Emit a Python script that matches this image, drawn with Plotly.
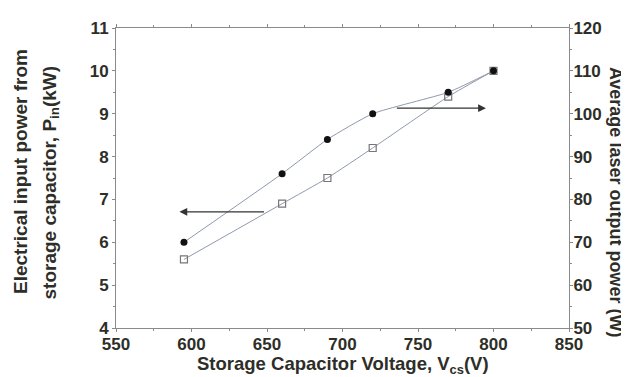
import plotly.graph_objects as go

voltage_in = [595, 660, 690, 720, 770, 800]
input_power_kw = [5.6, 6.9, 7.5, 8.2, 9.4, 10.0]

voltage_out = [595, 660, 690, 720, 770, 800]
laser_power_w = [70.0, 86.0, 94.0, 100.0, 105.0, 110.0]

left_title_lines = ["Electrical input power from", "storage capacitor, P<sub>in</sub>(kW)"]
right_title = "Average laser output power (W)"
x_title = "Storage Capacitor Voltage, V<sub>cs</sub>(V)"

FONT = "Liberation Sans, Arial, sans-serif"
LINE_COLOR = "#8f99ab"
TXT = "#2e2e28"

fig = go.Figure()
fig.add_trace(go.Scatter(
    x=voltage_in, y=input_power_kw, mode="lines+markers",
    line=dict(color=LINE_COLOR, width=1, shape="spline", smoothing=0.5),
    marker=dict(symbol="square-open", size=7, color="#777", line=dict(width=1.2)),
    yaxis="y", showlegend=False))
fig.add_trace(go.Scatter(
    x=voltage_out, y=laser_power_w, mode="lines+markers",
    line=dict(color=LINE_COLOR, width=1, shape="spline", smoothing=0.5),
    marker=dict(symbol="circle", size=7, color="#111"),
    yaxis="y2", showlegend=False))

axis_common = dict(showline=True, linecolor="#8a8a8a", linewidth=1,
                   ticks="outside", ticklen=3, tickcolor="#8a8a8a",
                   tickfont=dict(family=FONT, size=17, color=TXT, weight="bold"),
                   showgrid=False, zeroline=False)

fig.update_layout(
    width=629, height=377,
    margin=dict(l=108, r=68, t=20, b=57),
    paper_bgcolor="white", plot_bgcolor="white",
    xaxis=dict(range=[550, 850], tickvals=[550, 600, 650, 700, 750, 800, 850],
               mirror="ticks", ticklabelstandoff=-2,
               minor=dict(dtick=25, ticks="outside", ticklen=2, tickcolor="#8a8a8a"),
               **axis_common),
    yaxis=dict(range=[4, 11], dtick=1,
               minor=dict(dtick=0.5, ticks="outside", ticklen=2, tickcolor="#8a8a8a"),
               **axis_common),
    yaxis2=dict(range=[50, 120], dtick=10, overlaying="y", side="right",
                ticklabelstandoff=-3,
                minor=dict(dtick=5, ticks="outside", ticklen=2, tickcolor="#8a8a8a"),
                **axis_common),
)

title_font = dict(family=FONT, size=19, color=TXT, weight="bold")

# x-axis title
fig.add_annotation(xref="paper", yref="paper", x=0.5, y=0, yshift=-37,
                   text=x_title, showarrow=False, xanchor="center", yanchor="middle",
                   font=dict(family=FONT, size=18.5, color=TXT, weight="bold"))
# left title, two lines
fig.add_annotation(xref="paper", yref="paper", x=(12 - 108) / 453, y=0.52,
                   text=left_title_lines[0], textangle=-90, showarrow=False,
                   xanchor="center", yanchor="middle", font=title_font)
fig.add_annotation(xref="paper", yref="paper", x=(42 - 108) / 453, y=0.485,
                   text=left_title_lines[1], textangle=-90, showarrow=False,
                   xanchor="center", yanchor="middle", font=title_font)
# right title
fig.add_annotation(xref="paper", yref="paper", x=1.0, xshift=47, y=0.42,
                   text=right_title, textangle=90, showarrow=False,
                   xanchor="center", yanchor="middle",
                   font=dict(family=FONT, size=18, color=TXT, weight="bold"))

# arrows indicating axes
fig.add_annotation(x=592, y=6.71, ax=649, ay=6.71, xref="x", yref="y",
                   axref="x", ayref="y", text="", showarrow=True,
                   arrowhead=2, arrowsize=1.2, arrowwidth=1.3, arrowcolor="#333")
fig.add_annotation(x=795, y=101.3, ax=735, ay=101.3, xref="x", yref="y2",
                   axref="x", ayref="y2", text="", showarrow=True,
                   arrowhead=2, arrowsize=1.2, arrowwidth=1.3, arrowcolor="#333")

fig.write_html("out.html")
